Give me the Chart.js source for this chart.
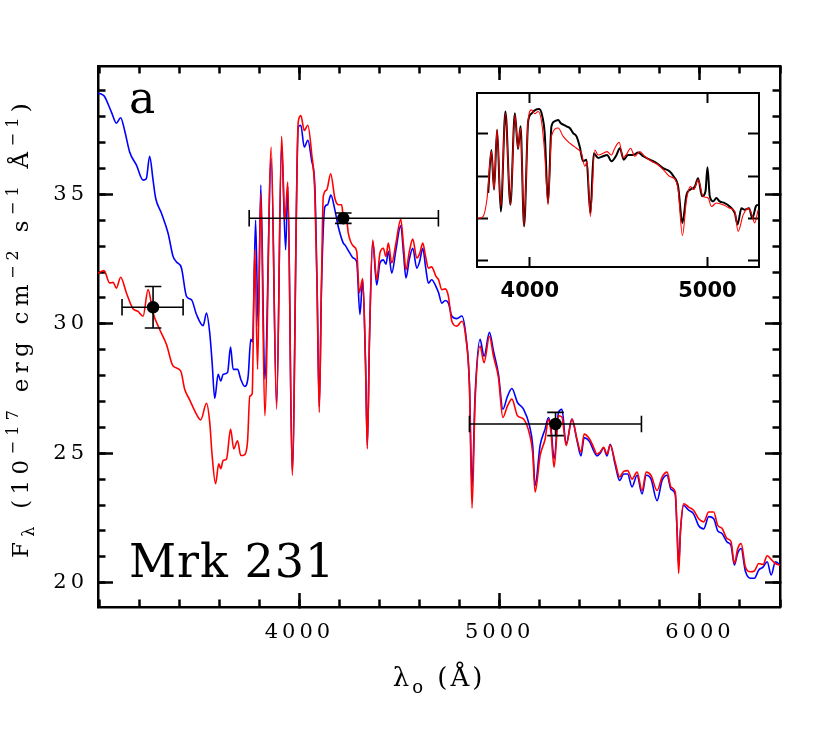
<!DOCTYPE html>
<html><head><meta charset="utf-8">
<script src="https://cdn.jsdelivr.net/npm/chart.js@4.4.1/dist/chart.umd.min.js"></script>
<style>
html,body{margin:0;padding:0;background:#fff;}
#wrap{position:relative;width:830px;height:729px;overflow:hidden;}
#main{position:absolute;left:0;top:0;}
#inset{position:absolute;left:437px;top:60px;}
</style></head><body>
<div id="wrap"><canvas id="main" width="830" height="729"></canvas><canvas id="inset" width="340" height="250"></canvas></div>
<script>
// ---------------- data ----------------
const redWave = [2993,3024,3052,3069,3086,3107,3136,3169,3194,3219,3244,3269,3302,3336,3369,3407,3427,3452,3477,3507,3536,3552,3564,3581,3597,3607,3619,3636,3656,3672,3691,3707,3727,3741,3752,3764,3777,3791,3807,3827,3859,3886,3911,3927,3942,3964,3994,4007,4024,4042,4061,4077,4088,4099,4110,4119,4136,4156,4177,4195,4211,4219,4236,4244,4269,4286,4299,4316,4330,4339,4350,4366,4386,4402,4419,4432,4444,4461,4482,4506,4520,4532,4549,4566,4586,4600,4616,4630,4644,4660,4682,4695,4711,4728,4744,4761,4786,4811,4832,4849,4862,4877,4902,4922,4949,4969,4994,5016,5039,5061,5089,5119,5149,5165,5177,5202,5227,5244,5256,5272,5294,5311,5332,5361,5386,5406,5422,5449,5469,5486,5502,5519,5536,5552,5577,5599,5619,5639,5661,5686,5711,5732,5756,5786,5811,5836,5856,5877,5886,5894,5903,5919,5944,5969,5994,6019,6044,6069,6089,6110,6136,6155,6172,6189,6206,6227,6252,6272,6294,6315,6336,6356,6377,6400];
const redFlux = [31.95,32.06,31.58,31.6,31.38,31.8,31.19,30.58,30.48,30.29,31.32,30.42,29.78,29.2,28.37,28.18,27.47,27.06,26.64,26.29,26.93,26.19,24.91,23.82,24.59,24.4,24.72,24.78,25.93,25.17,25.48,24.91,24.95,25.48,27.2,27.3,32.86,28.24,35.04,26.45,36.83,26.7,37.24,34.01,35.48,24.14,37.79,38.05,37.47,37.67,36.58,35.04,31.5,26.58,31.5,34.91,35.17,35.8,34.85,34.6,34.6,34.14,34.0,33.5,33.0,32.8,31.2,31.75,28.5,25.17,29.5,33.24,31.7,32.73,32.92,32.6,33.12,32.35,33.12,34.04,33.0,32.09,32.8,33.27,32.54,32.7,33.12,32.6,32.15,32.2,31.83,31.7,31.32,31.35,31.06,30.1,29.91,30.1,29.4,27.6,22.88,26.96,29.14,28.5,29.52,28.75,27.92,26.38,26.83,27.09,26.45,26.32,25.74,25.0,23.5,24.91,25.55,26.32,25.81,24.46,26.45,26.4,25.3,26.32,25.55,25.04,25.74,25.55,25.23,24.97,25.05,25.23,24.97,25.32,24.65,24.08,24.3,24.33,24.0,24.27,23.56,24.27,24.14,23.56,24.08,24.27,23.69,23.5,22.0,20.36,22.0,23.05,22.92,22.79,22.47,22.35,22.73,22.73,22.21,22.1,21.7,21.6,20.74,21.32,21.51,20.61,20.42,20.45,20.74,20.7,21.04,20.9,20.74,20.68];

const blueWave = [2993,3010,3025,3061,3086,3107,3127,3152,3186,3219,3235,3252,3269,3282,3311,3344,3369,3385,3411,3436,3461,3486,3519,3536,3552,3564,3577,3594,3607,3619,3641,3656,3669,3691,3707,3727,3744,3757,3766,3781,3794,3807,3827,3859,3886,3911,3931,3942,3964,3994,4007,4024,4042,4061,4077,4088,4099,4110,4127,4140,4157,4177,4194,4219,4227,4252,4269,4286,4302,4316,4330,4339,4350,4366,4386,4402,4419,4432,4444,4461,4482,4506,4520,4532,4549,4566,4586,4600,4616,4630,4644,4660,4682,4695,4711,4728,4744,4761,4786,4811,4832,4849,4862,4877,4902,4922,4949,4969,4994,5016,5039,5061,5089,5119,5149,5165,5177,5202,5227,5244,5256,5272,5294,5311,5332,5361,5386,5406,5422,5449,5469,5486,5502,5519,5536,5552,5577,5599,5619,5639,5661,5686,5711,5732,5756,5786,5811,5836,5856,5877,5886,5894,5903,5919,5944,5969,5994,6019,6044,6069,6089,6110,6136,6155,6172,6189,6206,6227,6252,6272,6294,6315,6336,6356,6377,6400];
const blueFlux = [38.9,38.88,38.8,38.18,37.75,37.96,37.47,36.64,36.13,35.55,35.6,36.47,35.55,34.85,34.27,33.5,32.6,32.4,32.15,31.06,30.93,30.36,29.93,30.42,29.65,28.5,27.12,28.05,27.79,28.05,28.12,29.1,28.24,28.24,27.86,27.58,27.98,29.4,29.3,34.01,29.9,35.36,27.86,36.38,26.9,36.9,32.86,35.3,24.3,37.6,37.67,36.83,37.09,36.3,35.3,31.5,26.8,31.4,34.52,34.6,34.97,34.4,33.75,33.12,33.05,32.73,32.54,32.4,30.36,31.7,28.5,25.3,29.5,33.17,31.5,32.35,32.47,32.3,32.8,31.96,32.86,33.8,32.7,31.77,32.5,32.92,32.15,32.4,32.92,32.2,31.57,31.7,31.44,31.2,30.8,30.9,30.8,30.3,30.2,30.3,29.5,27.7,23.7,27.2,29.4,28.75,29.67,28.95,28.05,26.7,27.2,27.5,26.96,26.7,26.06,25.3,23.75,25.3,25.94,26.38,26.0,24.78,26.58,26.7,25.35,26.32,25.5,24.9,25.6,25.45,25.1,24.9,25.0,25.2,24.9,25.35,24.55,23.95,24.2,24.2,23.7,24.15,23.43,24.15,24.0,23.17,23.95,24.15,23.6,23.4,22.0,20.68,22.0,22.98,22.8,22.65,22.2,22.08,22.55,22.47,22.0,21.9,21.57,21.45,20.68,21.15,21.32,20.45,20.17,20.17,20.49,20.6,20.81,20.3,20.81,20.68];

// photometric points with error bars
const ptWave   = [3269, 4219, 5279];
const ptFlux   = [30.64, 34.08, 26.13];
const ptWaveLo = [3114, 3749, 4849];
const ptWaveHi = [3419, 4694, 5708];
const ptFluxErr = [0.8, 0.2, 0.45];

// inset spectra (arbitrary flux units, no labels on inset y axis)
const insetRedWave = [3709,3737,3760,3784,3799,3816,3837,3863,3891,3916,3934,3948,3968,3991,4009,4028,4047,4066,4084,4103,4122,4160,4188,4225,4263,4291,4310,4323,4341,4366,4385,4413,4435,4460,4478,4503,4525,4548,4567,4591,4619,4647,4685,4722,4760,4788,4816,4835,4859,4882,4904,4923,4947,4975,5004,5022,5050,5088,5125,5154,5172,5201,5229,5247,5266,5285];
const insetRedFlux = [1.00,1.04,1.48,2.58,1.68,3.10,1.28,3.49,1.32,3.45,2.66,3.14,0.81,3.33,3.57,3.48,3.53,3.30,2.54,1.32,2.94,3.14,2.94,2.78,2.66,2.54,2.23,2.35,1.04,2.62,2.50,2.54,2.58,2.50,2.66,2.80,2.43,2.54,2.66,2.47,2.58,2.47,2.35,2.27,2.11,1.99,1.93,1.68,0.59,1.44,1.75,1.68,1.91,1.52,1.48,1.28,1.36,1.32,1.24,1.16,0.69,1.08,1.24,1.12,0.89,1.20];
const insetBlackWave = [3766,3784,3799,3816,3837,3863,3891,3916,3934,3948,3968,3991,4009,4028,4053,4071,4084,4103,4122,4141,4160,4173,4188,4206,4225,4244,4263,4281,4300,4319,4341,4360,4385,4413,4435,4460,4488,4507,4529,4553,4582,4610,4638,4675,4713,4750,4788,4810,4835,4859,4882,4904,4929,4947,4970,4989,5000,5013,5032,5050,5069,5097,5125,5154,5169,5191,5210,5234,5253,5272,5285];
const insetBlackFlux = [1.60,2.62,1.68,3.10,1.16,3.53,1.32,3.49,2.64,3.18,0.81,3.30,3.48,3.56,3.59,3.41,3.02,1.36,3.18,3.30,3.33,3.26,3.22,3.18,3.14,3.02,2.94,2.70,2.35,2.39,1.12,2.54,2.43,2.47,2.50,2.35,2.50,2.66,2.39,2.50,2.50,2.56,2.47,2.39,2.31,2.19,2.11,1.99,1.75,0.89,1.56,1.68,1.75,1.95,1.52,1.64,2.21,1.52,1.40,1.48,1.40,1.36,1.28,1.12,0.85,1.24,1.20,1.24,1.00,1.28,1.32];

// axes / ticks
const X_MIN = 2994, X_MAX = 6400, Y_MIN = 19.06, Y_MAX = 39.96;
const xMajorTicks = [4000, 5000, 6000];
const xMinorTicks = [3000,3200,3400,3600,3800,4000,4200,4400,4600,4800,5000,5200,5400,5600,5800,6000,6200,6400];
const yMajorTicks = [20, 25, 30, 35];
const yMinorTicks = [20,21,22,23,24,25,26,27,28,29,30,31,32,33,34,35,36,37,38,39];
const INSET_X_MIN = 3703, INSET_X_MAX = 5290, INSET_Y_MIN = -0.156, INSET_Y_MAX = 3.97;
const insetXTicks = [4000, 5000];
const insetYTicks = [0, 1, 2, 3];

const panelLabel = 'a';
const objectName = 'Mrk 231';

// ---------------- helpers ----------------
const SERIF = "'DejaVu Serif', serif";
const pairs = (xs, ys) => xs.map((x, i) => ({x: x, y: ys[i]}));
const fixedTicks = arr => s => { s.ticks = arr.map(v => ({value: v})); };

function drawRich(ctx, parts, o) {
  ctx.save();
  ctx.translate(o.x, o.y);
  if (o.rot) ctx.rotate(o.rot);
  ctx.letterSpacing = o.ls + 'px';
  ctx.fillStyle = '#000';
  ctx.textBaseline = 'alphabetic';
  ctx.textAlign = 'left';
  const small = Math.round(o.size * 0.68);
  const fontFor = k => ((k === 'n') ? o.size : small) + 'px ' + o.family;
  let w = 0;
  for (const [t, k] of parts) { ctx.font = fontFor(k); w += ctx.measureText(t).width; }
  let x = -w / 2;
  for (const [t, k] of parts) {
    ctx.font = fontFor(k);
    const dy = k === 'sup' ? -o.size * 0.45 : (k === 'sub' ? o.size * 0.28 : 0);
    ctx.fillText(t, x, dy);
    x += ctx.measureText(t).width;
  }
  ctx.restore();
}

// ---------------- main chart ----------------
const mainPlugin = {
  id: 'mainDecor',
  beforeDraw(chart) { chart.ctx.letterSpacing = '4px'; },
  afterDatasetsDraw(chart) {
    const ctx = chart.ctx, xs = chart.scales.x, ys = chart.scales.y;
    ctx.save();
    ctx.strokeStyle = '#000';
    ctx.lineWidth = 1.6;
    const cap = 8.3;
    for (let i = 0; i < ptWave.length; i++) {
      const px = xs.getPixelForValue(ptWave[i]);
      const py = ys.getPixelForValue(ptFlux[i]);
      const xl = xs.getPixelForValue(ptWaveLo[i]);
      const xh = xs.getPixelForValue(ptWaveHi[i]);
      const yt = ys.getPixelForValue(ptFlux[i] + ptFluxErr[i]);
      const yb = ys.getPixelForValue(ptFlux[i] - ptFluxErr[i]);
      ctx.beginPath();
      ctx.moveTo(xl, py); ctx.lineTo(xh, py);
      ctx.moveTo(xl, py - cap); ctx.lineTo(xl, py + cap);
      ctx.moveTo(xh, py - cap); ctx.lineTo(xh, py + cap);
      ctx.moveTo(px, yt); ctx.lineTo(px, yb);
      ctx.moveTo(px - cap, yt); ctx.lineTo(px + cap, yt);
      ctx.moveTo(px - cap, yb); ctx.lineTo(px + cap, yb);
      ctx.stroke();
    }
    ctx.restore();
  },
  afterDraw(chart) {
    const ctx = chart.ctx;
    ctx.save();
    ctx.fillStyle = '#000';
    ctx.letterSpacing = '0px';
    ctx.textBaseline = 'alphabetic';
    ctx.font = '44px ' + SERIF;
    ctx.fillText(panelLabel, 129, 113);
    ctx.letterSpacing = '1px';
    ctx.font = '46px ' + SERIF;
    ctx.fillText(objectName, 129, 577);
    ctx.restore();
    // x title
    drawRich(ctx, [['λ', 'n'], ['o', 'sub'], [' (Å)', 'n']],
      {x: 439, y: 686, size: 26, family: SERIF, ls: 3});
    // y title
    drawRich(ctx, [['F', 'n'], ['λ', 'sub'], [' (10', 'n'], ['−17', 'sup'], [' erg cm', 'n'], ['−2', 'sup'],
                   [' s', 'n'], ['−1', 'sup'], [' Å', 'n'], ['−1', 'sup'], [')', 'n']],
      {x: 28, y: 328, size: 23, family: SERIF, ls: 5.3, rot: -Math.PI / 2});
  }
};

const tickFont = {family: SERIF, size: 21, lineHeight: 1};
const axisCommon = (extra) => Object.assign({type: 'linear', display: true}, extra);
const spectrumStyle = {showLine: true, pointRadius: 0, borderWidth: 1.6, cubicInterpolationMode: 'monotone'};

new Chart(document.getElementById('main'), {
  type: 'scatter',
  data: {
    datasets: [
      {label: 'photometry', data: pairs(ptWave, ptFlux), pointRadius: 6.2, pointBackgroundColor: '#000',
       pointBorderColor: '#000', pointBorderWidth: 0, showLine: false},
      Object.assign({label: 'model', data: pairs(redWave, redFlux), borderColor: '#ff0000'}, spectrumStyle),
      Object.assign({label: 'observed', data: pairs(blueWave, blueFlux), borderColor: '#0000ff'}, spectrumStyle)
    ]
  },
  options: {
    responsive: false, animation: false, devicePixelRatio: 1,
    layout: {padding: {left: 0, right: 50, top: 66, bottom: 0}},
    plugins: {legend: {display: false}, tooltip: {enabled: false}},
    scales: {
      x: axisCommon({position: 'bottom', min: X_MIN, max: X_MAX, weight: 1,
        afterBuildTicks: fixedTicks(xMajorTicks), afterFit: s => { s.height = 122; },
        grid: {drawOnChartArea: false, drawTicks: true, tickLength: -14, tickWidth: 2.5, tickColor: '#000'},
        border: {display: true, color: '#000', width: 2.5},
        ticks: {autoSkip: false, maxRotation: 0, font: tickFont, color: '#000', padding: 29,
                callback: v => String(v)}}),
      xMinor: axisCommon({axis: 'x', position: 'bottom', min: X_MIN, max: X_MAX, weight: 0,
        afterBuildTicks: fixedTicks(xMinorTicks), afterFit: s => { s.height = 0; },
        grid: {drawOnChartArea: false, drawTicks: true, tickLength: -7.5, tickWidth: 2.5, tickColor: '#000'},
        border: {display: false}, ticks: {display: false}}),
      xTop: axisCommon({axis: 'x', position: 'top', min: X_MIN, max: X_MAX, weight: 1,
        afterBuildTicks: fixedTicks(xMajorTicks), afterFit: s => { s.height = 0; },
        grid: {drawOnChartArea: false, drawTicks: true, tickLength: -14, tickWidth: 2.5, tickColor: '#000'},
        border: {display: true, color: '#000', width: 2.5}, ticks: {display: false}}),
      xTopMinor: axisCommon({axis: 'x', position: 'top', min: X_MIN, max: X_MAX, weight: 0,
        afterBuildTicks: fixedTicks(xMinorTicks), afterFit: s => { s.height = 0; },
        grid: {drawOnChartArea: false, drawTicks: true, tickLength: -7.5, tickWidth: 2.5, tickColor: '#000'},
        border: {display: false}, ticks: {display: false}}),
      y: axisCommon({position: 'left', min: Y_MIN, max: Y_MAX, weight: 1,
        afterBuildTicks: fixedTicks(yMajorTicks), afterFit: s => { s.width = 98; },
        grid: {drawOnChartArea: false, drawTicks: true, tickLength: -15, tickWidth: 2.5, tickColor: '#000'},
        border: {display: true, color: '#000', width: 2.5},
        ticks: {autoSkip: false, font: tickFont, color: '#000', padding: 25, callback: v => String(v)}}),
      yMinor: axisCommon({axis: 'y', position: 'left', min: Y_MIN, max: Y_MAX, weight: 0,
        afterBuildTicks: fixedTicks(yMinorTicks), afterFit: s => { s.width = 0; },
        grid: {drawOnChartArea: false, drawTicks: true, tickLength: -7.5, tickWidth: 2.5, tickColor: '#000'},
        border: {display: false}, ticks: {display: false}}),
      yRight: axisCommon({axis: 'y', position: 'right', min: Y_MIN, max: Y_MAX, weight: 1,
        afterBuildTicks: fixedTicks(yMajorTicks), afterFit: s => { s.width = 0; },
        grid: {drawOnChartArea: false, drawTicks: true, tickLength: -15, tickWidth: 2.5, tickColor: '#000'},
        border: {display: true, color: '#000', width: 2.5}, ticks: {display: false}}),
      yRightMinor: axisCommon({axis: 'y', position: 'right', min: Y_MIN, max: Y_MAX, weight: 0,
        afterBuildTicks: fixedTicks(yMinorTicks), afterFit: s => { s.width = 0; },
        grid: {drawOnChartArea: false, drawTicks: true, tickLength: -7.5, tickWidth: 2.5, tickColor: '#000'},
        border: {display: false}, ticks: {display: false}})
    }
  },
  plugins: [mainPlugin]
});

// ---------------- inset chart ----------------
const insetFont = {family: "'DejaVu Sans', sans-serif", size: 21, weight: 'bold', lineHeight: 1};
new Chart(document.getElementById('inset'), {
  type: 'scatter',
  data: {
    datasets: [
      {label: 'model', data: pairs(insetRedWave, insetRedFlux), showLine: true, pointRadius: 0,
       borderColor: '#ff0000', borderWidth: 1.1, cubicInterpolationMode: 'monotone'},
      {label: 'observed', data: pairs(insetBlackWave, insetBlackFlux), showLine: true, pointRadius: 0,
       borderColor: '#000000', borderWidth: 2, cubicInterpolationMode: 'monotone'}
    ]
  },
  options: {
    responsive: false, animation: false, devicePixelRatio: 1,
    layout: {padding: {left: 0, right: 18, top: 33, bottom: 0}},
    plugins: {legend: {display: false}, tooltip: {enabled: false}},
    scales: {
      x: {type: 'linear', position: 'bottom', min: INSET_X_MIN, max: INSET_X_MAX,
        afterBuildTicks: fixedTicks(insetXTicks), afterFit: s => { s.height = 43; },
        grid: {drawOnChartArea: false, tickLength: -10, tickWidth: 2, tickColor: '#000'},
        border: {display: true, color: '#000', width: 2},
        ticks: {autoSkip: false, maxRotation: 0, font: insetFont, color: '#000', padding: 24, callback: v => String(v)}},
      xTop: {type: 'linear', axis: 'x', position: 'top', min: INSET_X_MIN, max: INSET_X_MAX,
        afterBuildTicks: fixedTicks(insetXTicks), afterFit: s => { s.height = 0; },
        grid: {drawOnChartArea: false, tickLength: -10, tickWidth: 2, tickColor: '#000'},
        border: {display: true, color: '#000', width: 2}, ticks: {display: false}},
      y: {type: 'linear', position: 'left', min: INSET_Y_MIN, max: INSET_Y_MAX,
        afterBuildTicks: fixedTicks(insetYTicks), afterFit: s => { s.width = 40; },
        grid: {drawOnChartArea: false, tickLength: -11, tickWidth: 2, tickColor: '#000'},
        border: {display: true, color: '#000', width: 2}, ticks: {display: false}},
      yRight: {type: 'linear', axis: 'y', position: 'right', min: INSET_Y_MIN, max: INSET_Y_MAX,
        afterBuildTicks: fixedTicks(insetYTicks), afterFit: s => { s.width = 0; },
        grid: {drawOnChartArea: false, tickLength: -11, tickWidth: 2, tickColor: '#000'},
        border: {display: true, color: '#000', width: 2}, ticks: {display: false}}
    }
  }
});
</script></body></html>
